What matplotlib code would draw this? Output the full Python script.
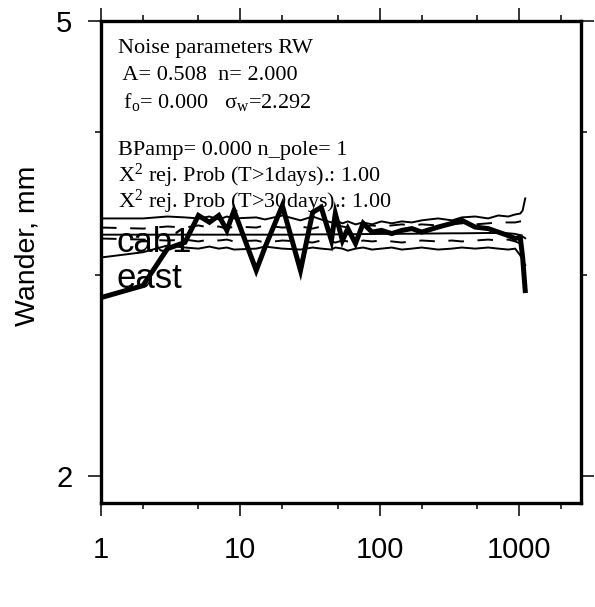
import matplotlib
matplotlib.use("Agg")
import matplotlib.pyplot as plt
from matplotlib.ticker import FixedLocator, NullFormatter, FixedFormatter

# ---- data ----
lag_days = [1, 2, 3, 4, 5, 6, 7, 8, 9, 13, 15, 20, 27, 33, 38, 45, 48, 54, 59, 67,
            76, 88, 103, 122, 144, 170, 200, 262, 330, 388, 484, 600, 708, 836,
            937, 1019, 1060, 1106]
east_wander = [2.866, 2.936, 3.163, 3.203, 3.381, 3.335, 3.381, 3.281, 3.415, 3.027,
               3.170, 3.449, 3.027, 3.402, 3.437, 3.215, 3.394, 3.215, 3.293, 3.196,
               3.328, 3.270, 3.281, 3.260, 3.281, 3.293, 3.270, 3.303, 3.328, 3.348,
               3.303, 3.293, 3.270, 3.247, 3.228, 3.236, 3.108, 2.907]
upper_bound = [3.361, 3.361, 3.374, 3.368, 3.361, 3.374, 3.354, 3.374, 3.361, 3.368,
               3.354, 3.381, 3.348, 3.374, 3.354, 3.334, 3.348, 3.328, 3.341, 3.321,
               3.334, 3.321, 3.341, 3.328, 3.341, 3.334, 3.348, 3.361, 3.348, 3.368,
               3.374, 3.361, 3.381, 3.374, 3.388, 3.394, 3.415, 3.499]
upper_sigma = [3.300, 3.293, 3.307, 3.300, 3.314, 3.300, 3.307, 3.293, 3.307, 3.300,
               3.314, 3.300, 3.307, 3.293, 3.307, 3.300, 3.314, 3.307, 3.300, 3.314,
               3.307, 3.314, 3.307, 3.314, 3.321, 3.314, 3.321, 3.314, 3.321, 3.328,
               3.321, 3.328, 3.334, 3.334, 3.334, 3.341, 3.341, 3.361]
model_wander = [3.253, 3.253, 3.253, 3.253, 3.253, 3.253, 3.253, 3.253, 3.253, 3.253,
                3.253, 3.253, 3.253, 3.255, 3.255, 3.255, 3.255, 3.255, 3.256, 3.256,
                3.257, 3.257, 3.258, 3.258, 3.259, 3.259, 3.260, 3.261, 3.262, 3.262,
                3.263, 3.264, 3.264, 3.262, 3.258, 3.250, 3.240, 3.230]
lower_sigma = [3.228, 3.221, 3.215, 3.221, 3.209, 3.221, 3.215, 3.221, 3.209, 3.215,
               3.202, 3.215, 3.209, 3.202, 3.215, 3.209, 3.202, 3.215, 3.209, 3.202,
               3.215, 3.209, 3.215, 3.209, 3.202, 3.209, 3.215, 3.209, 3.215, 3.209,
               3.215, 3.221, 3.215, 3.221, 3.209, 3.196, 3.183, 3.170]
lower_bound = [3.107, 3.140, 3.183, 3.170, 3.163, 3.176, 3.163, 3.170, 3.157, 3.163,
               3.176, 3.163, 3.157, 3.170, 3.163, 3.157, 3.170, 3.163, 3.150, 3.163,
               3.170, 3.157, 3.163, 3.170, 3.157, 3.163, 3.170, 3.157, 3.163, 3.170,
               3.163, 3.170, 3.163, 3.157, 3.163, 3.120, 3.090, 3.060]

x_major = [1, 10, 100, 1000]
x_major_labels = ["1", "10", "100", "1000"]
x_minor = [2, 5, 20, 50, 200, 500, 2000]
y_major = [2, 5]
y_major_labels = ["2", "5"]
y_minor = [3, 4]

info_lines = [
    "Noise parameters RW",
    " A= 0.508  n= 2.000",
    " f$_\\mathrm{o}$= 0.000   σ$_\\mathrm{w}$=2.292",
    "BPamp= 0.000 n_pole= 1",
    "X$^{2}$ rej. Prob (T>1days).: 1.00",
    "X$^{2}$ rej. Prob (T>30days).: 1.00",
]

plt.rcParams['mathtext.fontset'] = 'custom'
plt.rcParams['mathtext.rm'] = 'Liberation Serif'
plt.rcParams['mathtext.it'] = 'Liberation Serif:italic'
plt.rcParams['mathtext.bf'] = 'Liberation Serif:bold'

fig = plt.figure(figsize=(5.95, 6.07), dpi=100)
W, H = 595, 607
L, R, T, B = 101, 581, 21, 503
ax = fig.add_axes([L / W, 1 - B / H, (R - L) / W, (B - T) / H])

ax.set_xscale('log')
ax.set_yscale('log')
ax.set_xlim(1, 2780)
ax.set_ylim(1.896, 5.0)

thin = 1.4
ax.plot(lag_days, upper_bound, color='black', lw=thin)
ax.plot(lag_days, lower_bound, color='black', lw=thin)
ax.plot(lag_days, upper_sigma, color='black', lw=thin, dashes=(8, 7))
ax.plot(lag_days, lower_sigma, color='black', lw=thin, dashes=(8, 7))
ax.plot(lag_days, model_wander, color='black', lw=thin)
ax.plot(lag_days, east_wander, color='black', lw=3.6, solid_joinstyle='miter')

for s in ax.spines.values():
    s.set_linewidth(2.4)

ax.xaxis.set_major_locator(FixedLocator(x_major))
ax.xaxis.set_major_formatter(FixedFormatter(x_major_labels))
ax.xaxis.set_minor_locator(FixedLocator(x_minor))
ax.xaxis.set_minor_formatter(NullFormatter())
ax.yaxis.set_major_locator(FixedLocator(y_major))
ax.yaxis.set_major_formatter(FixedFormatter(y_major_labels))
ax.yaxis.set_minor_locator(FixedLocator(y_minor))
ax.yaxis.set_minor_formatter(NullFormatter())

ax.tick_params(which='both', direction='out', top=True, right=True, width=1.1,
               colors='black')
ax.tick_params(which='major', length=9.5)
ax.tick_params(which='minor', length=4.5)
ax.tick_params(axis='x', which='major', pad=14, labelsize=21)
ax.tick_params(axis='y', which='major', pad=11, labelsize=21)
for lab in ax.get_xticklabels() + ax.get_yticklabels():
    lab.set_family('Liberation Sans')

ax.set_ylabel("Wander, mm", fontsize=20.5, family='Liberation Sans')
ax.yaxis.set_label_coords(-(L - 41) / (R - L), (B - 246) / (B - T))

# info text
y0 = 48
steps = [0, 27, 54, 102, 128, 154]
for line, dy in zip(info_lines, steps):
    yp = y0 + dy
    ax.text((118 - L) / (R - L), (B - yp) / (B - T), line,
            transform=ax.transAxes, family='Liberation Serif', fontsize=16,
            va='center', ha='left')

ax.text((116 - L) / (R - L), (B - 242) / (B - T), "cab1", transform=ax.transAxes,
        family='Liberation Sans', fontsize=25, va='center', ha='left')
ax.text((116 - L) / (R - L), (B - 278) / (B - T), "east", transform=ax.transAxes,
        family='Liberation Sans', fontsize=25, va='center', ha='left')

fig.savefig("out.png", dpi=100)
